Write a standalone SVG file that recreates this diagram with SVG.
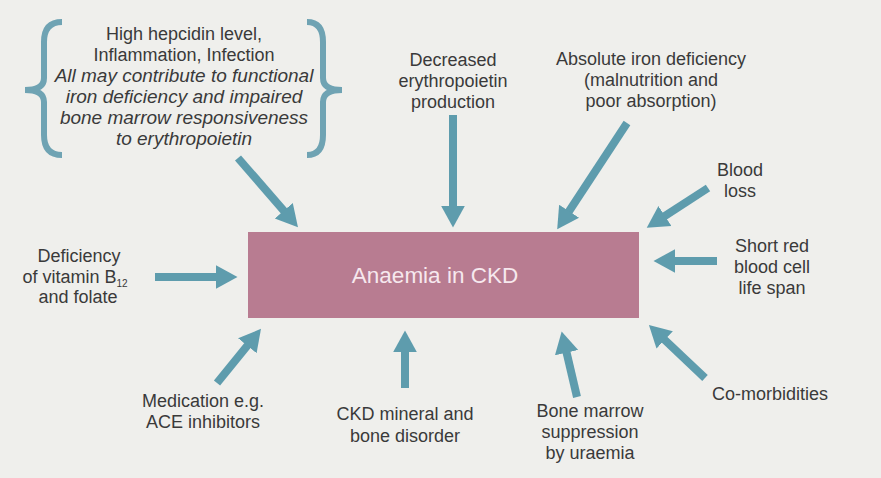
<svg xmlns="http://www.w3.org/2000/svg" width="881" height="478" viewBox="0 0 881 478">
<defs>
<marker id="ah" markerUnits="userSpaceOnUse" markerWidth="24" markerHeight="26" viewBox="0 -12 22 24" refX="2" refY="0" orient="auto">
<path d="M0,-11 L20,0 L0,11 z" fill="#5e9cad"/>
</marker>
<style>
.t{font-family:"Liberation Sans",Arial,sans-serif;font-size:18px;fill:#3a3a3a;text-anchor:middle}
.i{font-style:italic;font-size:19px}
.a{stroke:#5e9cad;stroke-width:8;fill:none;marker-end:url(#ah)}
.br{stroke:#6fa3b3;stroke-width:6;fill:none;stroke-linecap:butt}
</style>
</defs>
<rect width="881" height="478" fill="#efefec"/>
<g id="center">
<rect x="248" y="232" width="391" height="86" fill="#b87c91"/>
<text x="435" y="283" class="t" style="font-size:22.5px;fill:#f6e8ee">Anaemia in CKD</text>
</g>
<g id="hepcidin">
<path class="br" d="M62,22 Q44,22 44,42 L44,78 Q44,90 25,90 Q44,90 44,102 L44,135 Q44,155 62,155"/>
<path class="br" d="M307,22 Q323,22 323,42 L323,78 Q323,90 342,90 Q323,90 323,102 L323,135 Q323,155 307,155"/>
<text class="t" x="184" y="40">High hepcidin level,</text>
<text class="t" x="184" y="61">Inflammation, Infection</text>
<text class="t i" x="184" y="82">All may contribute to functional</text>
<text class="t i" x="184" y="103">iron deficiency and impaired</text>
<text class="t i" x="184" y="124">bone marrow responsiveness</text>
<text class="t i" x="184" y="145">to erythropoietin</text>
</g>
<g id="epo">
<text class="t" x="453" y="66">Decreased</text>
<text class="t" x="453" y="87">erythropoietin</text>
<text class="t" x="453" y="108">production</text>
</g>
<g id="iron">
<text class="t" x="651" y="65">Absolute iron deficiency</text>
<text class="t" x="651" y="86">(malnutrition and</text>
<text class="t" x="651" y="107">poor absorption)</text>
</g>
<g id="blood">
<text class="t" x="740" y="176">Blood</text>
<text class="t" x="740" y="197">loss</text>
</g>
<g id="shortred">
<text class="t" x="772" y="252">Short red</text>
<text class="t" x="772" y="273">blood cell</text>
<text class="t" x="772" y="294">life span</text>
</g>
<g id="comorb">
<text class="t" x="770" y="400">Co-morbidities</text>
</g>
<g id="bonemarrow">
<text class="t" x="590" y="417">Bone marrow</text>
<text class="t" x="590" y="438">suppression</text>
<text class="t" x="590" y="459">by uraemia</text>
</g>
<g id="ckdmbd">
<text class="t" x="405" y="420">CKD mineral and</text>
<text class="t" x="405" y="442">bone disorder</text>
</g>
<g id="medication">
<text class="t" x="203" y="407">Medication e.g.</text>
<text class="t" x="203" y="428">ACE inhibitors</text>
</g>
<g id="vitamin">
<text class="t" x="79" y="262">Deficiency</text>
<text class="t" x="75" y="283">of vitamin B<tspan style="font-size:10px" dy="4">12</tspan></text>
<text class="t" x="78" y="303">and folate</text>
</g>
<g id="connectors">
<line class="a" x1="238" y1="158" x2="285.2" y2="212.4"/>
<line class="a" x1="453" y1="115" x2="453" y2="208"/>
<line class="a" x1="627" y1="123" x2="567.9" y2="213"/>
<line class="a" x1="708" y1="188" x2="663.1" y2="217.2"/>
<line class="a" x1="717" y1="261" x2="673" y2="261"/>
<line class="a" x1="705" y1="378" x2="663.1" y2="338.4"/>
<line class="a" x1="577" y1="397" x2="566.1" y2="350.5"/>
<line class="a" x1="405" y1="388" x2="405" y2="350"/>
<line class="a" x1="217" y1="383" x2="248.7" y2="344"/>
<line class="a" x1="155" y1="277" x2="218" y2="277"/>
</g>
</svg>
